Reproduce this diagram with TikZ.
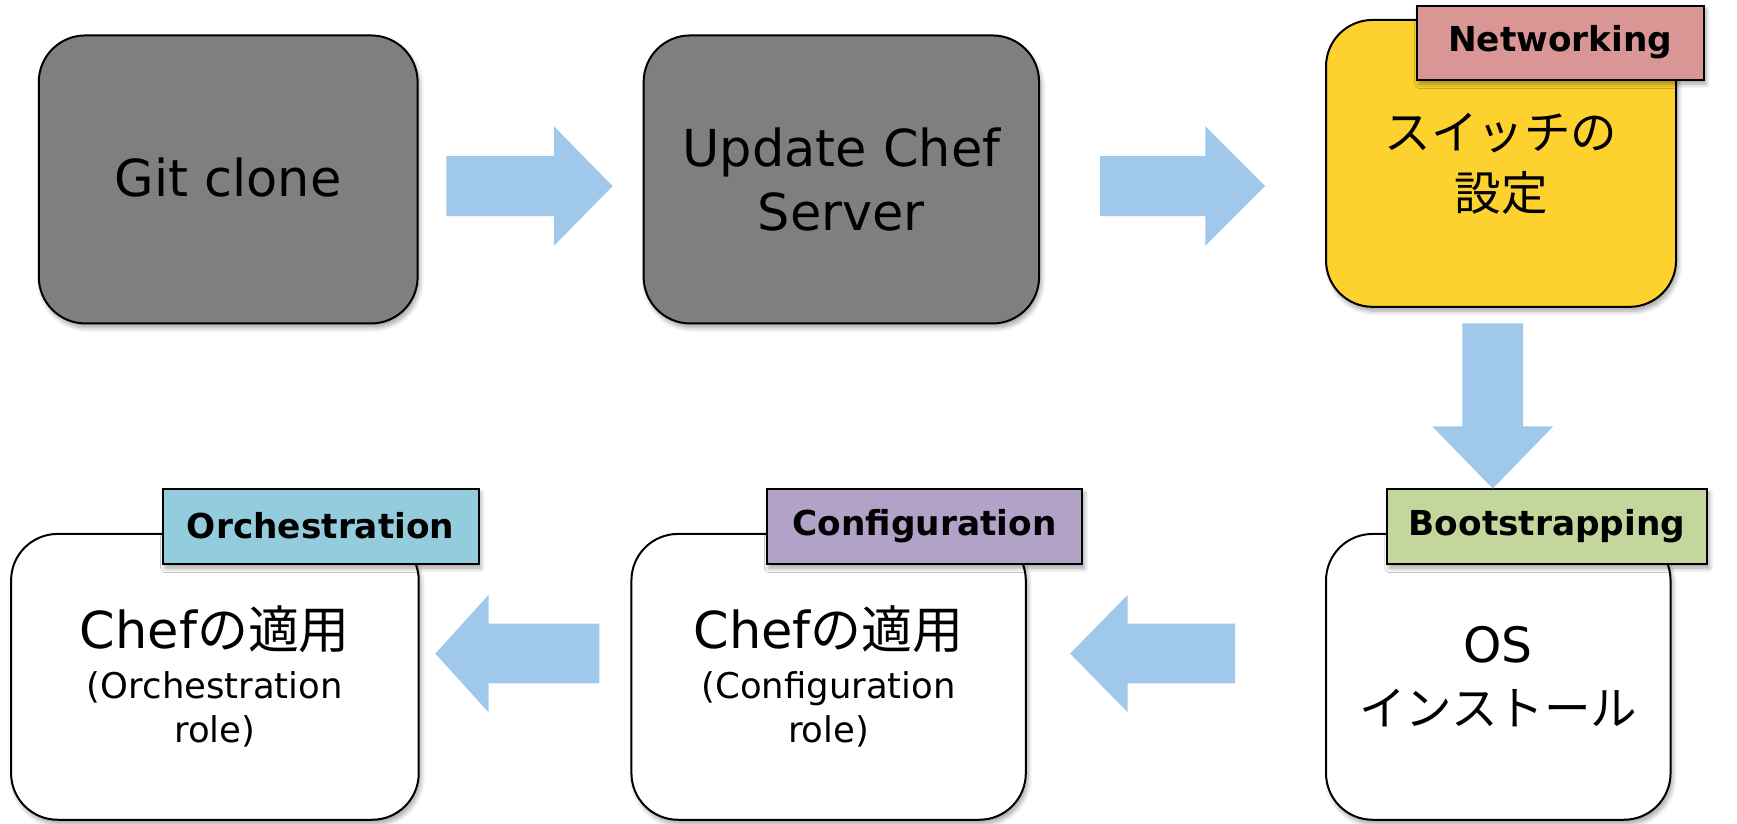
\documentclass[tikz,border=0pt]{standalone}
\usepackage{fontspec}
\setmainfont{DejaVu Sans}
\newfontfamily\jp{Noto Sans CJK JP}
\usetikzlibrary{shadows.blur}
\definecolor{boxgray}{HTML}{7F7F7F}
\definecolor{boxyellow}{HTML}{FDD12E}
\definecolor{labpink}{HTML}{D99694}
\definecolor{labgreen}{HTML}{C3D69B}
\definecolor{labpurple}{HTML}{B3A2C7}
\definecolor{labblue}{HTML}{93CDDD}
\definecolor{arrowblue}{HTML}{9FC8EB}
\tikzset{
  myshadow/.style={blur shadow={shadow xshift=2pt, shadow yshift=-4pt, shadow blur radius=4pt, shadow blur steps=6, shadow opacity=35}},
  stepbox/.style={draw=black, line width=1.8pt, rounded corners=42pt, align=center, inner sep=0pt, myshadow},
  tagbox/.style={draw=black, line width=1.8pt, inner sep=0pt, myshadow, font=\fontsize{31}{36}\selectfont\bfseries},
  blockarrow/.style={fill=arrowblue, draw=none},
}
\begin{document}
\begin{tikzpicture}[x=1pt,y=1pt]
\useasboundingbox (0,0) rectangle (1568,743);
% boxes
\node[stepbox, fill=boxgray, minimum width=342pt, minimum height=260pt,
      font=\fontsize{46}{57}\selectfont] (git) at (206,581) {\raisebox{4pt}{Git clone}};
\node[stepbox, fill=boxgray, minimum width=357pt, minimum height=260pt,
      font=\fontsize{46}{57}\selectfont] (upd) at (759.5,581) {Update Chef\\Server};
\node[stepbox, fill=boxyellow, minimum width=316pt, minimum height=259pt,
      font=\jp\fontsize{42}{55}\selectfont] (sw) at (1355,595.5) {スイッチの\\設定};
\node[stepbox, fill=white, minimum width=311pt, minimum height=258pt,
      font=\jp\fontsize{42}{57}\selectfont] (os) at (1352.5,132)
  {{\normalfont\fontsize{44}{57}\selectfont OS}\\インストール};
\node[stepbox, fill=white, minimum width=356pt, minimum height=258pt,
      font=\fontsize{32}{40}\selectfont] (conf) at (748,132)
  {{\fontsize{46}{52}\selectfont Chef{\jp の適用}}\\[5pt](Configuration\\role)};
\node[stepbox, fill=white, minimum width=368pt, minimum height=258pt,
      font=\fontsize{32}{40}\selectfont] (orch) at (194,132)
  {{\fontsize{46}{52}\selectfont Chef{\jp の適用}}\\[5pt](Orchestration\\role)};
% tags
\node[tagbox, fill=labpink, minimum width=259pt, minimum height=67pt] (nettag) at (1408.5,704.5) {Networking};
\node[tagbox, fill=labgreen, minimum width=289pt, minimum height=68pt] (boottag) at (1396.5,268) {Bootstrapping};
\node[tagbox, fill=labpurple, minimum width=285pt, minimum height=68pt] (conftag) at (834.5,268) {Configuration};
\node[tagbox, fill=labblue, minimum width=285pt, minimum height=68pt] (orchtag) at (289.5,268) {Orchestration};
% block arrows
\fill[blockarrow] (403,548) -- (500,548) -- (500,521) -- (553,575) -- (500,629) -- (500,602) -- (403,602) -- cycle;
\fill[blockarrow] (993,548) -- (1088,548) -- (1088,521) -- (1142,575) -- (1088,629) -- (1088,602) -- (993,602) -- cycle;
\fill[blockarrow] (1320,451) -- (1375,451) -- (1375,358) -- (1402,358) -- (1347.5,302) -- (1293,358) -- (1320,358) -- cycle;
\fill[blockarrow] (1115,126) -- (1018,126) -- (1018,100) -- (966,153) -- (1018,206) -- (1018,180) -- (1115,180) -- cycle;
\fill[blockarrow] (541,126) -- (441,126) -- (441,100) -- (393,153) -- (441,206) -- (441,180) -- (541,180) -- cycle;
\end{tikzpicture}
\end{document}
